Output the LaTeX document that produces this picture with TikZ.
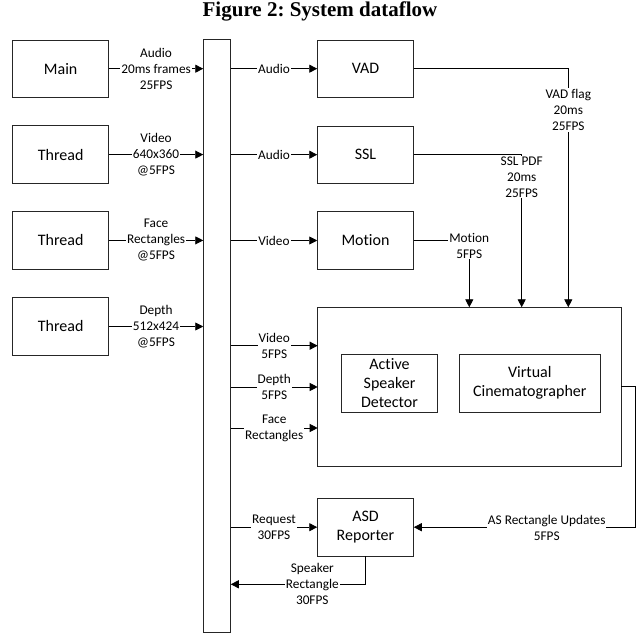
\documentclass[tikz,border=0pt]{standalone}
\usepackage{fontspec}
\setmainfont{Carlito}[Ligatures={NoCommon}]
\newfontfamily\titlefont{Liberation Serif}
\usetikzlibrary{arrows.meta,calc}
\frenchspacing
\begin{document}
\begin{tikzpicture}[x=1pt,y=-1pt,
  box/.style={draw=black!85,line width=0.9pt,rectangle,inner sep=0pt,minimum width=95.6pt,minimum height=57.3pt,font=\fontsize{16}{19}\selectfont,align=center},
  lbl/.style={fill=white,inner sep=1pt,font=\fontsize{13.3}{16}\selectfont,align=center},
  arr/.style={line width=0.9pt,-{Triangle[length=8pt,width=8pt]}},
  ln/.style={line width=0.9pt}]
\useasboundingbox (0,0) rectangle (641,636);
\node[font=\titlefont\bfseries\fontsize{21}{24}\selectfont, anchor=base] (title) at (320,16.7) {Figure 2: System dataflow};
% left sources
\node[box] (main) at (60.7,68.7) {Main};
\node[box] (t1) at (60.7,154.6) {Thread};
\node[box] (t2) at (60.7,240.4) {Thread};
\node[box] (t3) at (60.7,326.5) {Thread};
% bus
\node[box,minimum width=26.6pt,minimum height=592.7pt] (bus) at (217,336.3) {};
% processing boxes
\node[box] (vad) at (365.5,68.7) {VAD};
\node[box] (ssl) at (365.5,154.7) {SSL};
\node[box] (mot) at (365.5,240.5) {Motion};
\node[box,minimum width=303.3pt,minimum height=158.7pt] (big) at (469.3,386.7) {};
\node[box,minimum height=58pt] (asd) at (389.5,383.3) {Active\\Speaker\\Detector};
\node[box,minimum width=140.3pt,minimum height=58pt] (vc) at (529.8,383.3) {Virtual\\Cinematographer};
\node[box,minimum height=57.7pt] (rep) at (365.5,527.2) {ASD\\Reporter};
% sources to bus
\draw[arr] (main.east) -- node[lbl]{Audio\\20ms frames\\25FPS} (main.east -| bus.west);
\draw[arr] (t1.east) -- node[lbl]{Video\\640x360\\@5FPS} (t1.east -| bus.west);
\draw[arr] (t2.east) -- node[lbl]{Face\\Rectangles\\@5FPS} (t2.east -| bus.west);
\draw[arr] (t3.east) -- node[lbl]{Depth\\512x424\\@5FPS} (t3.east -| bus.west);
% bus to processing
\draw[arr] (bus.east |- vad.west) -- node[lbl]{Audio} (vad.west);
\draw[arr] (bus.east |- ssl.west) -- node[lbl]{Audio} (ssl.west);
\draw[arr] (bus.east |- mot.west) -- node[lbl]{Video} (mot.west);
\coordinate (inV) at (317.7,345.7);
\coordinate (inD) at (317.7,387);
\coordinate (inF) at (317.7,428);
\draw[arr] (bus.east |- inV) -- node[lbl]{Video\\5FPS} (inV);
\draw[arr] (bus.east |- inD) -- node[lbl]{Depth\\5FPS} (inD);
\draw[arr] (bus.east |- inF) -- node[lbl]{Face\\Rectangles} (inF);
\draw[arr] (bus.east |- rep.west) -- node[lbl]{Request\\30FPS} (rep.west);
% outputs into big box
\coordinate (vadIn) at (568.3,307.3);
\coordinate (sslIn) at (521.7,307.3);
\coordinate (motIn) at (469.3,307.3);
\draw[arr] (vad.east) -| (vadIn);
\node[lbl] (vadlbl) at (568.3,110) {VAD flag\\20ms\\25FPS};
\draw[arr] (ssl.east) -| (sslIn);
\node[lbl] (ssllbl) at (521.7,177) {SSL PDF\\20ms\\25FPS};
\draw[arr] (mot.east) -| (motIn);
\node[lbl] (motlbl) at (469.3,245.8) {Motion\\5FPS};
% big box to reporter
\coordinate (cR) at (635,527.2);
\draw[arr] (big.east) -| (cR) -- (rep.east);
\node[lbl] (aslbl) at (546.7,527.7) {AS Rectangle Updates\\5FPS};
% reporter to bus
\coordinate (srY) at (365.5,584.3);
\draw[arr] (rep.south) -- (srY) -- (bus.east |- srY);
\node[lbl] (srlbl) at (312.3,584.3) {Speaker\\Rectangle\\30FPS};
\end{tikzpicture}
\end{document}
